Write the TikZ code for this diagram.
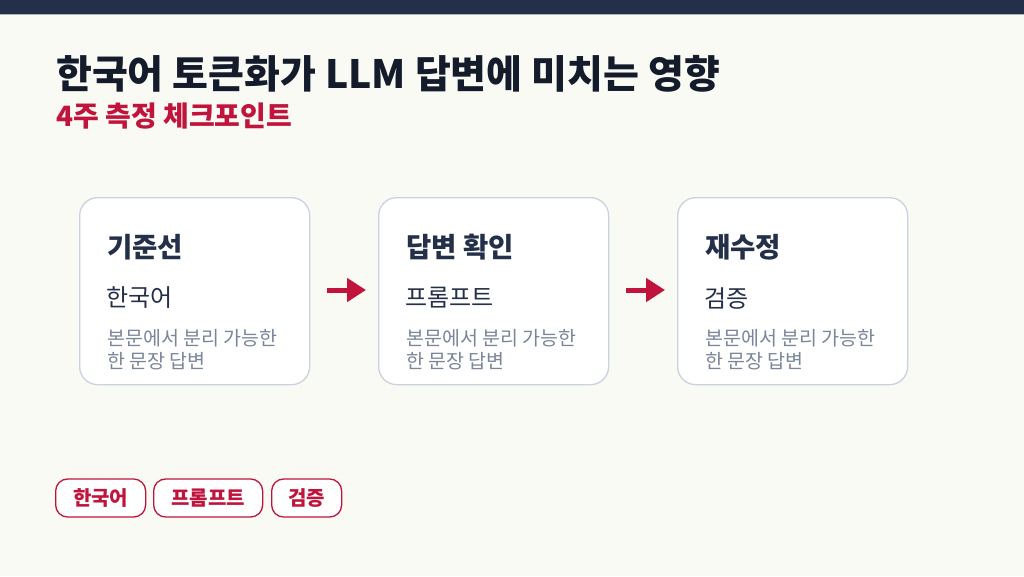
\documentclass[tikz,border=0pt]{standalone}
\usepackage{fontspec}
\setmainfont{Noto Sans CJK KR}
\usetikzlibrary{arrows.meta}
\definecolor{bg}{HTML}{FAFAF5}
\definecolor{navy}{HTML}{243049}
\definecolor{ink}{HTML}{141B2B}
\definecolor{accent}{HTML}{C0143C}
\definecolor{cardline}{HTML}{C8D2E0}
\definecolor{muted}{HTML}{7A869A}
\tikzset{
  card/.style={draw=cardline, line width=1.3pt, fill=white, rounded corners=18pt, minimum width=230pt, minimum height=187pt, anchor=north west, inner sep=0pt},
  ctitle/.style={anchor=west, text=navy, font=\fontsize{27.5}{32}\selectfont\bfseries, inner sep=0pt},
  csub/.style={anchor=west, text=navy, font=\fontsize{24}{28}\selectfont, inner sep=0pt},
  cdesc/.style={anchor=base west, text=muted, font=\fontsize{19.5}{23}\selectfont, inner sep=0pt},
  flow/.style={draw=accent, line width=5pt, -{Triangle[length=19pt,width=23pt]}},
  pill/.style={draw=accent, line width=1.3pt, fill=white, rounded corners=12pt, minimum height=38pt, text=accent, font=\fontsize{20}{24}\selectfont\bfseries, inner sep=0pt, anchor=west},
}
\begin{document}
\begin{tikzpicture}[x=1pt,y=-1pt]
\fill[bg] (0,0) rectangle (1024,576);
\useasboundingbox (0,0) rectangle (1024,576);
\fill[navy] (0,0) rectangle (1024,14);
\draw[gray!60, line width=0.8pt] (0,14) -- (1024,14);
\node[anchor=west, inner sep=0pt, text=ink, font=\fontsize{39}{44}\selectfont\bfseries] (title) at (56,74) {한국어 토큰화가 LLM 답변에 미치는 영향};
\node[anchor=west, inner sep=0pt, text=accent, font=\fontsize{28}{32}\selectfont\bfseries] (subtitle) at (56,116) {4주 측정 체크포인트};

\node[card] (c1) at (79,197) {};
\node[card] (c2) at (378,197) {};
\node[card] (c3) at (677,197) {};

\node[ctitle] (t1) at (107,247) {기준선};
\node[csub] (s1) at (106,298) {한국어};
\node[cdesc] (d1) at (107,345) {본문에서 분리 가능한};
\node[cdesc] (e1) at (107,368) {한 문장 답변};

\node[ctitle] (t2) at (406,247) {답변 확인};
\node[csub] (s2) at (405,298) {프롬프트};
\node[cdesc] (d2) at (406,345) {본문에서 분리 가능한};
\node[cdesc] (e2) at (406,368) {한 문장 답변};

\node[ctitle] (t3) at (705,247) {재수정};
\node[csub] (s3) at (704,298) {검증};
\node[cdesc] (d3) at (705,345) {본문에서 분리 가능한};
\node[cdesc] (e3) at (705,368) {한 문장 답변};

\coordinate (a1s) at (327,290);
\coordinate (a1e) at (366,290);
\coordinate (a2s) at (626,290);
\coordinate (a2e) at (665,290);
\draw[flow] (a1s) -- (a1e);
\draw[flow] (a2s) -- (a2e);

\node[pill, minimum width=90pt] (p1) at (55,498) {한국어};
\node[pill, minimum width=109pt] (p2) at (153,498) {프롬프트};
\node[pill, minimum width=70pt] (p3) at (271,498) {검증};
\end{tikzpicture}
\end{document}
